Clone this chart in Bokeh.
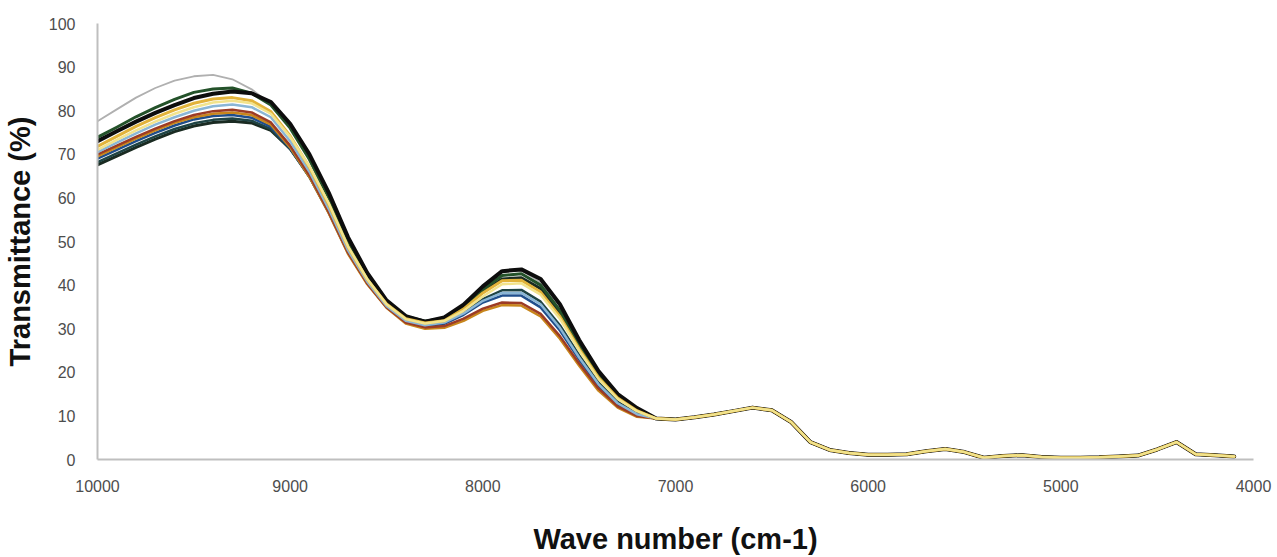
from bokeh.plotting import figure
from bokeh.models import Range1d, FixedTicker
from bokeh.embed import file_html
from bokeh.resources import INLINE

# ---- data ----
WN_HEAD = [10000, 9900, 9800, 9700, 9600, 9500, 9400, 9300, 9200, 9100,
           9000, 8900, 8800, 8700, 8600, 8500, 8400, 8300, 8200, 8100,
           8000, 7900, 7800, 7700, 7600, 7500, 7400, 7300, 7200]
WN_TAIL = [7100, 7000, 6900, 6800, 6700, 6600, 6500, 6400, 6300, 6200,
           6100, 6000, 5900, 5800, 5700, 5600, 5500, 5400, 5300, 5200,
           5100, 5000, 4900, 4800, 4700, 4600, 4500, 4400, 4300, 4200, 4100]
T_TAIL = [9.4, 9.2, 9.7, 10.3, 11.1, 11.9, 11.3, 8.6, 4.0, 2.2,
          1.5, 1.1, 1.1, 1.2, 1.9, 2.4, 1.7, 0.4, 0.8, 1.0,
          0.6, 0.4, 0.4, 0.5, 0.7, 0.9, 2.3, 4.0, 1.2, 1.0, 0.7]

gray = [77.6, 80.3, 83.0, 85.2, 86.9, 87.9, 88.2, 87.2, 84.9, 81.5, 76.5, 68.8, 60.0, 50.0, 42.2,
        36.3, 32.8, 31.8, 32.6, 35.5, 39.6, 43.0, 43.4, 40.6, 34.3, 26.5, 19.5, 14.5, 11.5]
black2 = [67.6, 69.6, 71.6, 73.5, 75.2, 76.5, 77.3, 77.6, 77.2, 75.5, 71.3, 65.2, 57.5, 48.5, 41.5,
          35.8, 32.1, 31.1, 31.8, 34.6, 38.4, 41.4, 41.7, 39.2, 33.6, 26.2, 19.4, 14.4, 11.4]
teal = [68.2, 70.2, 72.2, 74.1, 75.8, 77.1, 77.9, 78.2, 77.7, 75.8, 71.2, 64.8, 56.8, 47.7, 40.7,
        35.2, 31.8, 30.8, 31.4, 33.6, 36.8, 38.8, 38.9, 36.2, 30.8, 23.9, 17.7, 13.2, 10.6]
navy = [69.0, 71.0, 73.0, 74.9, 76.6, 78.0, 78.8, 79.0, 78.4, 76.3, 71.4, 64.8, 56.6, 47.4, 40.4,
        35.0, 31.6, 30.6, 31.1, 33.2, 36.0, 37.6, 37.6, 34.9, 29.6, 22.9, 16.9, 12.6, 10.2]
orange = [69.5, 71.6, 73.6, 75.5, 77.2, 78.5, 79.3, 79.6, 79.0, 76.8, 71.6, 64.8, 56.5, 47.2, 40.2,
          34.8, 31.2, 30.0, 30.2, 31.8, 34.1, 35.4, 35.3, 32.8, 27.7, 21.5, 15.8, 11.9, 9.8]
brown = [70.0, 72.0, 74.0, 75.9, 77.6, 79.0, 79.9, 80.2, 79.6, 77.3, 72.0, 65.2, 56.8, 47.5, 40.4,
         34.9, 31.4, 30.3, 30.6, 32.3, 34.6, 36.0, 35.9, 33.4, 28.3, 22.0, 16.3, 12.2, 10.0]
light_blue = [70.5, 72.7, 74.8, 76.8, 78.5, 80.0, 81.0, 81.4, 80.8, 78.5, 73.0, 66.0, 57.5, 48.0, 40.8,
              35.2, 31.8, 30.8, 31.4, 33.5, 36.4, 38.2, 38.2, 35.6, 30.2, 23.4, 17.3, 12.9, 10.4]
dark_green = [73.9, 76.2, 78.6, 80.7, 82.6, 84.2, 85.0, 85.2, 84.0, 81.3, 76.0, 68.8, 60.0, 50.0, 42.2,
              36.3, 32.8, 31.7, 32.4, 35.0, 39.0, 42.2, 42.6, 40.0, 34.2, 26.6, 19.6, 14.5, 11.4]
black = [73.0, 75.3, 77.5, 79.5, 81.3, 82.9, 83.9, 84.4, 84.0, 82.0, 77.0, 70.0, 61.2, 51.0, 42.8,
         36.5, 32.9, 31.6, 32.6, 35.5, 39.7, 43.2, 43.6, 41.4, 35.6, 27.4, 20.3, 15.0, 11.8]
gold = [71.8, 74.1, 76.4, 78.4, 80.2, 81.7, 82.7, 83.0, 82.3, 79.8, 74.2, 67.0, 58.5, 48.8, 41.3,
        35.7, 32.3, 31.3, 31.8, 34.5, 38.2, 41.0, 41.1, 38.4, 32.8, 25.4, 18.8, 14.1, 11.2]
light_yellow = [71.0, 73.3, 75.5, 77.5, 79.3, 80.8, 81.9, 82.3, 81.7, 79.3, 74.0, 67.2, 58.8, 48.9, 41.4,
                35.6, 32.2, 31.2, 31.8, 34.1, 37.4, 40.2, 40.4, 37.8, 32.3, 25.0, 18.5, 13.9, 11.1]

SERIES = [
    ("gray", gray, "#b0b0b0", 1.8),
    ("black2", black2, "#1a2b22", 3.0),
    ("teal", teal, "#1f4444", 2.5),
    ("navy", navy, "#1f4e8c", 2.5),
    ("orange", orange, "#c8861c", 2.5),
    ("brown", brown, "#9c3b25", 2.5),
    ("light_blue", light_blue, "#8ab6d6", 2.5),
    ("dark_green", dark_green, "#24522a", 3.0),
    ("black", black, "#0d0d0d", 4.0),
    ("gold", gold, "#e2b33a", 3.0),
    ("light_yellow", light_yellow, "#f2e38c", 2.5),
]

p = figure(width=1277, height=557, output_backend="svg", toolbar_location=None,
           x_range=Range1d(10000, 4000), y_range=Range1d(0, 100),
           min_border_left=95, min_border_right=24, min_border_top=23, min_border_bottom=94)
p.outline_line_color = None
p.grid.grid_line_color = None
p.background_fill_color = "white"
p.border_fill_color = "white"

for name, head, color, w in SERIES:
    p.line(WN_HEAD + WN_TAIL, head + T_TAIL, line_color=color, line_width=w,
           line_join="round", line_cap="round")

p.xaxis.ticker = FixedTicker(ticks=[10000, 9000, 8000, 7000, 6000, 5000, 4000])
p.yaxis.ticker = FixedTicker(ticks=list(range(0, 101, 10)))

for ax in (p.xaxis[0], p.yaxis[0]):
    ax.axis_line_color = "#bfbfbf"
    ax.axis_line_width = 2
    ax.major_tick_line_color = None
    ax.minor_tick_line_color = None
    ax.major_label_text_font = "Liberation Sans"
    ax.major_label_text_font_size = "16px"
    ax.major_label_text_color = "#4d4d4d"
    ax.axis_label_text_font = "Liberation Sans"
    ax.axis_label_text_font_style = "bold"
    ax.axis_label_text_font_size = "29px"
    ax.axis_label_text_color = "#111111"

p.xaxis.axis_label = "Wave number (cm-1)"
p.yaxis.axis_label = "Transmittance (%)"
p.xaxis.major_label_standoff = 14
p.xaxis.axis_label_standoff = 28
p.yaxis.major_label_standoff = 16
p.yaxis.axis_label_standoff = 10

open("out.html", "w").write(file_html(p, INLINE))
